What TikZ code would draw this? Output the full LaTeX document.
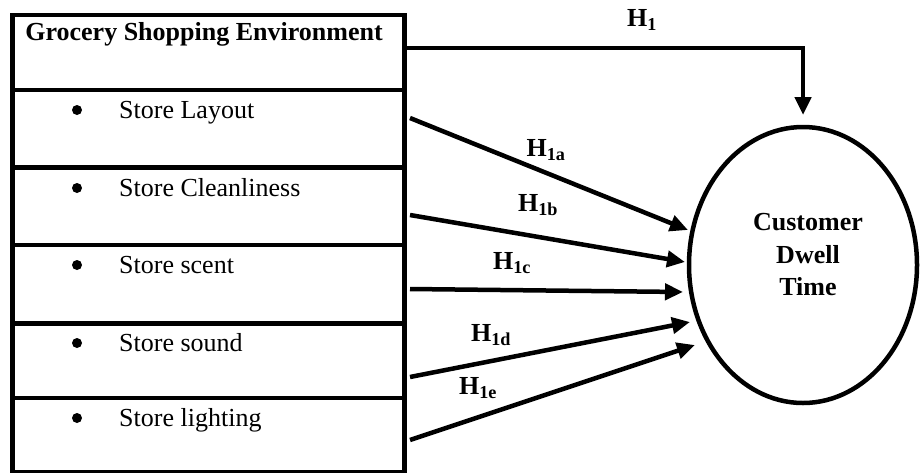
\documentclass[tikz,border=0pt]{standalone}
\usepackage{fontspec}
\setmainfont{Liberation Serif}
\usetikzlibrary{arrows.meta,shapes.geometric}
\begin{document}
\begin{tikzpicture}[x=1pt,y=-1pt,
  rowbox/.style={draw,line width=4.5pt,minimum width=392pt,inner sep=0pt,anchor=north west},
  itemtext/.style={anchor=base west,inner sep=0pt,font=\fontsize{26}{30}\selectfont},
  bul/.style={circle,fill=black,inner sep=0pt,minimum size=10pt},
  boldtext/.style={anchor=base,inner sep=0pt,font=\fontsize{26}{30}\selectfont\bfseries},
  hlab/.style={inner sep=0pt,font=\fontsize{26}{30}\selectfont\bfseries},
  conn/.style={line width=4.5pt,-{Triangle[length=18pt,width=16pt]}}
]
\useasboundingbox (0,0) rectangle (920,472);
% left boxes
\node[rowbox,minimum height=75pt] (hdr) at (10,12.5) {};
\node[rowbox,minimum height=77.5pt] (r1) at (10,87.5) {};
\node[rowbox,minimum height=77.5pt] (r2) at (10,165) {};
\node[rowbox,minimum height=78.5pt] (r3) at (10,242.5) {};
\node[rowbox,minimum height=74.5pt] (r4) at (10,321) {};
\node[rowbox,minimum height=74pt] (r5) at (10,395.5) {};
% texts
\node[boldtext] (thdr) at (204,40) {Grocery Shopping Environment};
\node[bul] (b1) at (77,110) {};
\node[itemtext] (t1) at (119,118) {Store Layout};
\node[bul] (b2) at (77,188) {};
\node[itemtext] (t2) at (119,196) {Store Cleanliness};
\node[bul] (b3) at (77,265) {};
\node[itemtext] (t3) at (119,273) {Store scent};
\node[bul] (b4) at (77,343) {};
\node[itemtext] (t4) at (119,351) {Store sound};
\node[bul] (b5) at (77,418) {};
\node[itemtext] (t5) at (119,426) {Store lighting};
% ellipse
\node[draw,ellipse,line width=4.5pt,minimum width=228pt,minimum height=276pt,inner sep=0pt] (dw) at (803,265) {};
\node[boldtext] (dw1) at (808,230) {Customer};
\node[boldtext] (dw2) at (808,263) {Dwell};
\node[boldtext] (dw3) at (808,295) {Time};
% connectors
\coordinate (h1s) at (402,48);
\coordinate (h1e) at (803,115);
\draw[conn] (h1s) -| (h1e);
\coordinate (a1) at (410,118); \coordinate (e1) at (688,230);
\coordinate (a2) at (410,215); \coordinate (e2) at (685,262);
\coordinate (a3) at (410,289); \coordinate (e3) at (683,292);
\coordinate (a4) at (410,377); \coordinate (e4) at (690,322);
\coordinate (a5) at (410,440); \coordinate (e5) at (695,345);
\draw[conn] (a1) -- (e1);
\draw[conn] (a2) -- (e2);
\draw[conn] (a3) -- (e3);
\draw[conn] (a4) -- (e4);
\draw[conn] (a5) -- (e5);
% labels
\node[hlab] (l0) at (642,20) {H\textsubscript{1}};
\node[hlab] (l1) at (546,150) {H\textsubscript{1a}};
\node[hlab] (l2) at (538,205) {H\textsubscript{1b}};
\node[hlab] (l3) at (512,263) {H\textsubscript{1c}};
\node[hlab] (l4) at (491,335) {H\textsubscript{1d}};
\node[hlab] (l5) at (478,388) {H\textsubscript{1e}};
\end{tikzpicture}
\end{document}
